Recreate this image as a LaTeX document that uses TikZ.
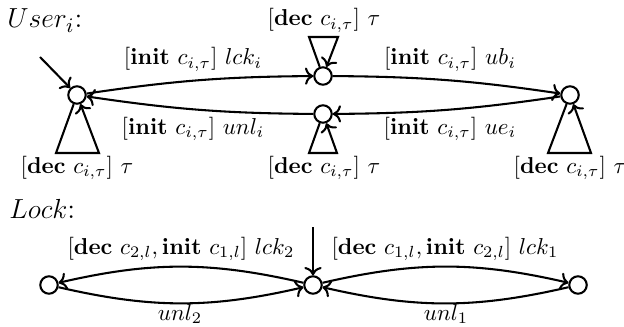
\documentclass[tikz,border=0pt]{standalone}
\usetikzlibrary{arrows.meta}
\begin{document}
\begin{tikzpicture}[x=0.435pt,y=0.435pt,
  st/.style={circle,draw,line width=0.9pt,minimum size=7.6pt,inner sep=0pt},
  tr/.style={->,line width=0.9pt},
  lbl/.style={anchor=base,inner sep=0pt},
  head/.style={anchor=base west,inner sep=0pt,font=\fontsize{12.5}{15}\selectfont}]
\useasboundingbox (0,0) rectangle (624,326);
% User automaton
\node[st] (A) at (77,231) {};
\node[st] (B) at (323,250) {};
\node[st] (C) at (323,212) {};
\node[st] (D) at (570,231) {};
\coordinate (iA) at (40,269);
\draw[tr] (iA) -- (A);
\draw[tr] (A) to[bend left=4] (B);
\draw[tr] (B) to[bend left=4] (D);
\draw[tr] (D) to[bend left=4] (C);
\draw[tr] (C) to[bend left=4] (A);
% self loops
\coordinate (a1) at (56,173); \coordinate (a2) at (99,173);
\draw[tr] (A) -- (a1) -- (a2) -- (A);
\coordinate (b1) at (309,289); \coordinate (b2) at (338,289);
\draw[tr] (B) -- (b1) -- (b2) -- (B);
\coordinate (c1) at (309,173); \coordinate (c2) at (337,173);
\draw[tr] (C) -- (c1) -- (c2) -- (C);
\coordinate (d1) at (548,173); \coordinate (d2) at (591,173);
\draw[tr] (D) -- (d1) -- (d2) -- (D);
% labels
\node[head] at (7,298) {$User_i$:};
\node[lbl] at (324,300) {$[\mathbf{dec}\ c_{i,\tau}]\ \tau$};
\node[lbl] at (77,153) {$[\mathbf{dec}\ c_{i,\tau}]\ \tau$};
\node[lbl] at (324,153) {$[\mathbf{dec}\ c_{i,\tau}]\ \tau$};
\node[lbl] at (570,153) {$[\mathbf{dec}\ c_{i,\tau}]\ \tau$};
\node[lbl] at (193,261) {$[\mathbf{init}\ c_{i,\tau}]\ lck_i$};
\node[lbl] at (193,192) {$[\mathbf{init}\ c_{i,\tau}]\ unl_i$};
\node[lbl] at (450,261) {$[\mathbf{init}\ c_{i,\tau}]\ ub_i$};
\node[lbl] at (450,192) {$[\mathbf{init}\ c_{i,\tau}]\ ue_i$};
% Lock automaton
\node[head] at (9,108) {$Lock$:};
\node[st] (L2) at (49,41) {};
\node[st] (L0) at (313,41) {};
\node[st] (L1) at (578,41) {};
\coordinate (iL) at (313,99);
\draw[tr] (iL) -- (L0);
\draw[tr] (L0) to[bend right=13] (L2);
\draw[tr] (L2) to[bend right=13] (L0);
\draw[tr] (L0) to[bend left=13] (L1);
\draw[tr] (L1) to[bend left=13] (L0);
\node[lbl] at (181,72) {$[\mathbf{dec}\ c_{2,l}, \mathbf{init}\ c_{1,l}]\ lck_2$};
\node[lbl] at (445,72) {$[\mathbf{dec}\ c_{1,l}, \mathbf{init}\ c_{2,l}]\ lck_1$};
\node[lbl] at (180,6) {$unl_2$};
\node[lbl] at (446,6) {$unl_1$};
\end{tikzpicture}
\end{document}
